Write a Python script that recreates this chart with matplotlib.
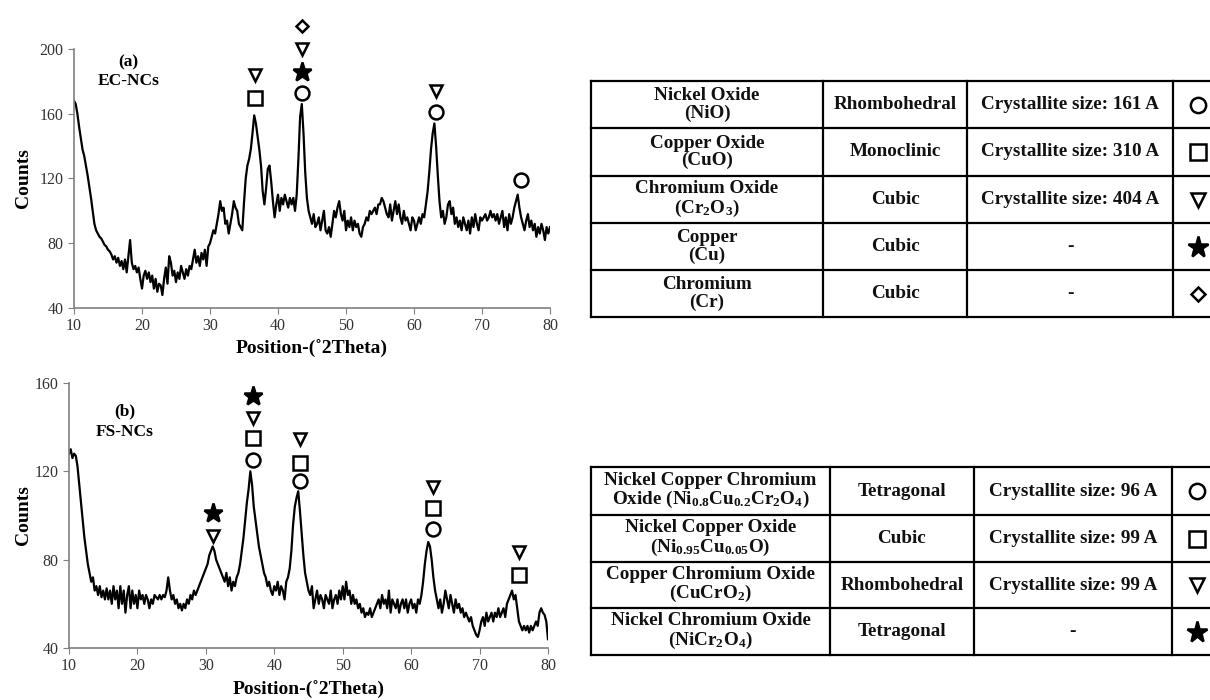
import numpy as np
import matplotlib
matplotlib.use("Agg")
import matplotlib.pyplot as plt

plt.rcParams['font.family'] = ['Liberation Serif', 'DejaVu Serif']
plt.rcParams['mathtext.default'] = 'regular'

"""
    Data read off the patterns (0.25 deg steps from 10 to 80)
"""
counts_a = [
    168, 166, 160, 152, 145, 138, 134, 128, 122, 115, 108, 100, 92, 88, 86, 84, 83, 81, 79, 78,
    76, 75, 73, 70, 72, 68, 71, 66, 69, 64, 70, 62, 72, 82, 68, 64, 66, 62, 65, 58,
    52, 60, 63, 58, 62, 56, 60, 52, 58, 50, 55, 54, 48, 58, 65, 55, 72, 68, 60, 63,
    56, 62, 58, 66, 62, 58, 64, 60, 66, 64, 70, 76, 68, 72, 66, 74, 70, 76, 66, 78,
    80, 84, 88, 86, 92, 98, 106, 100, 102, 92, 94, 86, 92, 98, 106, 102, 100, 92, 90, 88,
    105, 120, 128, 132, 138, 148, 159, 154, 146, 138, 128, 112, 104, 114, 126, 128, 118, 106, 96, 104,
    110, 100, 108, 104, 110, 106, 102, 108, 104, 108, 100, 110, 132, 158, 166, 148, 124, 108, 100, 96,
    92, 98, 90, 92, 96, 88, 94, 100, 88, 86, 90, 84, 92, 100, 96, 102, 106, 98, 94, 100,
    88, 94, 90, 96, 88, 94, 90, 92, 86, 84, 90, 92, 96, 94, 100, 98, 100, 102, 98, 104,
    104, 108, 106, 102, 98, 96, 104, 94, 100, 106, 98, 104, 96, 92, 100, 94, 96, 92, 88, 96,
    94, 88, 92, 96, 92, 98, 96, 104, 112, 124, 138, 148, 154, 140, 122, 106, 96, 100, 92, 96,
    104, 106, 98, 102, 92, 96, 90, 94, 88, 96, 92, 88, 94, 86, 96, 90, 98, 92, 88, 96,
    94, 96, 98, 94, 96, 100, 96, 98, 94, 98, 92, 96, 100, 90, 96, 88, 98, 92, 96, 102,
    106, 110, 102, 96, 92, 88, 94, 98, 90, 94, 88, 92, 84, 90, 86, 92, 88, 82, 90, 86,
    90,
]

counts_b = [
    128, 130, 126, 128, 127, 122, 114, 106, 98, 90, 84, 78, 74, 70, 72, 66, 68, 64, 68, 63,
    66, 62, 67, 62, 66, 60, 68, 62, 66, 58, 68, 60, 66, 56, 64, 68, 58, 66, 60, 64,
    58, 66, 62, 64, 60, 64, 62, 58, 62, 60, 64, 63, 62, 64, 62, 64, 63, 66, 72, 66,
    62, 64, 60, 62, 58, 60, 57, 60, 58, 62, 60, 64, 62, 66, 64, 66, 68, 70, 72, 74,
    76, 78, 82, 84, 86, 84, 80, 78, 76, 74, 72, 70, 74, 68, 72, 66, 70, 68, 72, 74,
    78, 84, 90, 98, 106, 112, 120, 114, 104, 98, 92, 86, 82, 78, 74, 72, 68, 70, 66, 64,
    68, 66, 70, 64, 68, 66, 62, 70, 72, 76, 84, 96, 104, 108, 111, 102, 92, 82, 74, 70,
    66, 64, 68, 58, 62, 66, 60, 64, 62, 58, 64, 62, 60, 66, 58, 62, 64, 60, 66, 62,
    68, 62, 70, 64, 66, 60, 64, 60, 62, 58, 60, 56, 58, 54, 56, 55, 58, 54, 56, 58,
    60, 62, 58, 64, 60, 62, 58, 66, 56, 62, 60, 58, 62, 56, 60, 62, 58, 62, 56, 60,
    62, 58, 60, 56, 62, 60, 64, 70, 78, 84, 88, 86, 80, 72, 66, 62, 58, 62, 56, 60,
    66, 62, 58, 64, 60, 56, 62, 58, 60, 56, 58, 54, 56, 54, 52, 54, 50, 48, 46, 45,
    48, 52, 54, 50, 56, 52, 54, 56, 52, 56, 54, 58, 54, 56, 58, 54, 60, 62, 64, 66,
    62, 64, 58, 52, 50, 48, 50, 48, 50, 47, 50, 48, 50, 52, 50, 56, 58, 56, 55, 52,
    44,
]

# phase markers above the peaks
ann_a_x = [36.6, 36.6, 43.6, 43.6, 43.6, 43.6, 63.3, 63.3, 75.7]
ann_a_y = [170, 184, 173, 186, 200, 214, 161, 174, 119]
ann_a_sym = ['square', 'tri', 'circle', 'star', 'tri', 'diamond', 'circle', 'tri', 'circle']

ann_b_x = [31.1, 31.1, 36.9, 36.9, 36.9, 36.9, 43.7, 43.7, 43.7, 63.25, 63.25, 63.25, 75.7, 75.7]
ann_b_y = [90.5, 101, 125, 135, 144, 154, 115.5, 124, 134.5, 93.7, 103.3, 113, 73, 83.5]
ann_b_sym = ['tri', 'star', 'circle', 'square', 'tri', 'star', 'circle', 'square', 'tri',
             'circle', 'square', 'tri', 'square', 'tri']

# tables
phases_a = ['Nickel Oxide\n(NiO)', 'Copper Oxide\n(CuO)', 'Chromium Oxide\n(Cr$_2$O$_3$)',
            'Copper\n(Cu)', 'Chromium\n(Cr)']
systems_a = ['Rhombohedral', 'Monoclinic', 'Cubic', 'Cubic', 'Cubic']
sizes_a = ['Crystallite size: 161 A', 'Crystallite size: 310 A', 'Crystallite size: 404 A', '-', '-']
symbols_a = ['circle', 'square', 'tri', 'star', 'diamond']

phases_b = ['Nickel Copper Chromium\nOxide (Ni$_{0.8}$Cu$_{0.2}$Cr$_2$O$_4$)',
            'Nickel Copper Oxide\n(Ni$_{0.95}$Cu$_{0.05}$O)',
            'Copper Chromium Oxide\n(CuCrO$_2$)',
            'Nickel Chromium Oxide\n(NiCr$_2$O$_4$)']
systems_b = ['Tetragonal', 'Cubic', 'Rhombohedral', 'Tetragonal']
sizes_b = ['Crystallite size: 96 A', 'Crystallite size: 99 A', 'Crystallite size: 99 A', '-']
symbols_b = ['circle', 'square', 'tri', 'star']

marker_style = {
    'circle': ('o', 10, 'white'),
    'square': ('s', 10, 'white'),
    'tri': ('v', 9, 'white'),
    'star': ('*', 14, 'black'),
    'diamond': ('D', 6.5, 'white'),
}


def put_symbol(ax, x, y, name, scale=1.0):
    m, ms, fc = marker_style[name]
    ax.plot([x], [y], linestyle='none', marker=m, markersize=ms * scale, mfc=fc,
            mec='black', mew=1.8, clip_on=False, zorder=5)


def style_axes(ax, ymax, ylab_x):
    ax.set_xlim(10, 80)
    ax.set_ylim(40, ymax)
    ax.set_xticks(range(10, 81, 10))
    ax.set_yticks(range(40, ymax + 1, 40))
    for s in ['top', 'right']:
        ax.spines[s].set_visible(False)
    for s in ['left', 'bottom']:
        ax.spines[s].set_color('#808080')
        ax.spines[s].set_linewidth(1.2)
    ax.tick_params(direction='out', length=4, color='#808080', labelsize=11.5,
                   labelcolor='#333333')
    ax.set_xlabel('Position-(˚2Theta)', fontsize=14, fontweight='bold')
    ax.set_ylabel('Counts', fontsize=14, fontweight='bold')
    ax.xaxis.set_label_coords(0.5, -0.125)
    ax.yaxis.set_label_coords(ylab_x, 0.5)


def draw_table(ax, x_edges, y_edges, phases, systems, sizes, symbols):
    for x in x_edges:
        ax.plot([x, x], [y_edges[0], y_edges[-1]], color='black', lw=1.6, clip_on=False)
    for y in y_edges:
        ax.plot([x_edges[0], x_edges[-1]], [y, y], color='black', lw=1.6, clip_on=False)
    for i in range(len(phases)):
        yc = (y_edges[i] + y_edges[i + 1]) / 2
        cells = [phases[i], systems[i], sizes[i]]
        for j, txt in enumerate(cells):
            xc = (x_edges[j] + x_edges[j + 1]) / 2
            ax.text(xc, yc, txt, ha='center', va='center', fontsize=13.8,
                    fontweight='bold', linespacing=1.0, color='#111111')
        put_symbol(ax, (x_edges[3] + x_edges[4]) / 2, yc, symbols[i], scale=1.1)


fig = plt.figure(figsize=(12.1, 7), dpi=100)

theta_a = np.linspace(10, 80, len(counts_a))
theta_b = np.linspace(10, 80, len(counts_b))

"""
    Panel (a)
"""
ax1 = fig.add_axes([74 / 1210, 1 - 308 / 700, 476 / 1210, 259 / 700])
ax1.plot(theta_a, counts_a, color='black', lw=1.6)
style_axes(ax1, 200, -0.088)
ax1.text(18, 192, '(a)', ha='center', va='center', fontsize=12.5, fontweight='bold')
ax1.text(18, 180, 'EC-NCs', ha='center', va='center', fontsize=12.5, fontweight='bold')
for x, y, s in zip(ann_a_x, ann_a_y, ann_a_sym):
    put_symbol(ax1, x, y, s)

"""
    Panel (b)
"""
ax2 = fig.add_axes([69 / 1210, 1 - 648 / 700, 479 / 1210, 265 / 700])
ax2.plot(theta_b, counts_b, color='black', lw=1.6)
style_axes(ax2, 160, -0.078)
ax2.text(18.1, 147, '(b)', ha='center', va='center', fontsize=12.5, fontweight='bold')
ax2.text(18.1, 138, 'FS-NCs', ha='center', va='center', fontsize=12.5, fontweight='bold')
for x, y, s in zip(ann_b_x, ann_b_y, ann_b_sym):
    put_symbol(ax2, x, y, s)

"""
    Tables, drawn in pixel coordinates
"""
tab = fig.add_axes([0, 0, 1, 1])
tab.set_xlim(0, 1210)
tab.set_ylim(700, 0)
tab.axis('off')

draw_table(tab, [591, 823, 967, 1173, 1222], [81, 128, 176, 223, 270, 317],
           phases_a, systems_a, sizes_a, symbols_a)
draw_table(tab, [591, 830, 974, 1172, 1222], [467, 515, 562, 608, 655],
           phases_b, systems_b, sizes_b, symbols_b)

fig.savefig('out.png', dpi=100)
